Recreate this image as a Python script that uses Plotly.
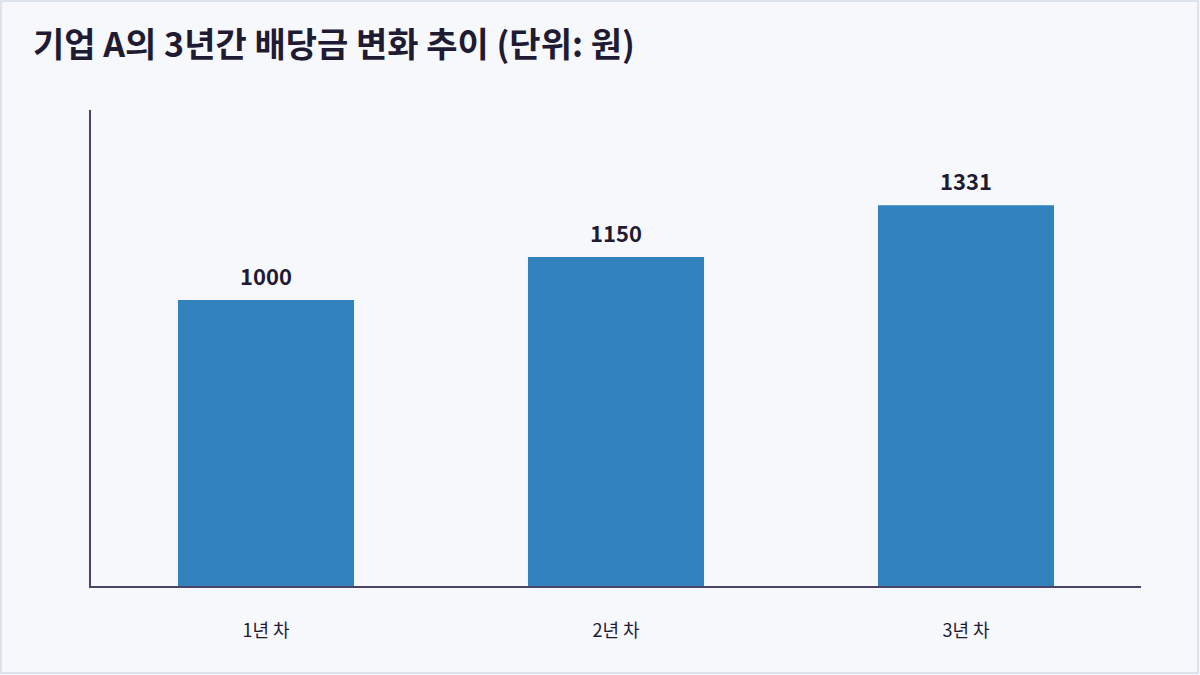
import plotly.graph_objects as go

years = ["1년 차", "2년 차", "3년 차"]
dividends = [1000, 1150, 1331]
title_text = "기업 A의 3년간 배당금 변화 추이 (단위: 원)"

font = "Noto Sans CJK KR"
ink = "#1e1b33"
bg = "#f7f8fc"

fig = go.Figure()
fig.add_trace(go.Bar(
    x=years, y=dividends,
    marker=dict(color="#3182bd", line=dict(width=0)),
    cliponaxis=False,
    hoverinfo="skip",
))

# value labels above the bars
for yr, v in zip(years, dividends):
    fig.add_annotation(
        x=yr, y=v, text=str(v), showarrow=False,
        yanchor="bottom", yshift=7,
        font=dict(family=font, size=22, color=ink, weight="bold"),
    )

W, H = 1200, 675
m = dict(l=91, r=59, t=110, b=89)
pw = W - m["l"] - m["r"]
ph = H - m["t"] - m["b"]
# light frame around the whole page
fig.add_shape(
    type="rect", xref="paper", yref="paper",
    x0=(1 - m["l"]) / pw, x1=1 + (m["r"] - 2) / pw,
    y0=-(m["b"] - 2) / ph, y1=1 + (m["t"] - 1) / ph,
    line=dict(color="#dde3ec", width=2), layer="below",
)

fig.update_layout(
    width=W, height=H,
    margin=m,
    paper_bgcolor=bg, plot_bgcolor=bg,
    showlegend=False,
    bargap=0.497,
    font=dict(family=font, color=ink),
    title=dict(
        text=title_text,
        x=33 / W, xanchor="left", xref="container",
        y=1 - 45 / H, yanchor="middle", yref="container",
        font=dict(family=font, size=34, color=ink, weight="bold"),
    ),
    xaxis=dict(
        showline=True, linecolor="#4a4568", linewidth=2,
        showgrid=False, ticks="", ticklabelstandoff=27,
        tickfont=dict(family=font, size=18, color=ink),
    ),
    yaxis=dict(
        range=[0, 1664], showline=True, linecolor="#4a4568", linewidth=2,
        showgrid=False, zeroline=False, showticklabels=False, ticks="",
    ),
)

fig.write_html(
    "out.html",
    config={"displayModeBar": False},
    post_script="document.body.style.margin='0';document.body.style.overflow='hidden';",
)
